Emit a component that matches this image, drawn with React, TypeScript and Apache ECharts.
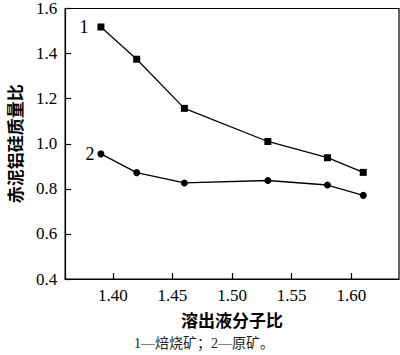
import React, { useEffect, useRef } from "react";
import * as echarts from "echarts";

const xValues = [1.39, 1.42, 1.46, 1.53, 1.58, 1.61];
const series1 = [1.518, 1.375, 1.157, 1.01, 0.938, 0.873];
const series2 = [0.955, 0.872, 0.826, 0.837, 0.817, 0.771];
const xTicks = [1.4, 1.45, 1.5, 1.55, 1.6];
const seriesNames = ["1", "2"];
const xTitle = "溶出液分子比";
const yTitle = "赤泥铝硅质量比";
const caption = "1—焙烧矿；2—原矿。";

const serif = "Liberation Serif";
const cjk = "Liberation Serif, Noto Sans CJK SC";

export default function App() {
  const ref = useRef<HTMLDivElement>(null);
  useEffect(() => {
    if (!ref.current) return;
    const chart = echarts.init(ref.current, null, { renderer: "svg" });
    const mk = (vals: number[], name: string, dist: number) =>
      vals.map((v, i) =>
        i === 0
          ? {
              value: [xValues[i], v],
              label: {
                show: true,
                position: "left",
                distance: dist,
                formatter: name,
                fontFamily: serif,
                fontSize: 18,
                color: "#000",
              },
            }
          : { value: [xValues[i], v] }
      );
    chart.setOption({
      animation: false,
      textStyle: { fontFamily: serif, fontSize: 17, color: "#000" },
      grid: {
        left: 53,
        right: 1,
        top: 7,
        bottom: 76,
        show: true,
        borderColor: "#000",
        borderWidth: 1.2,
      },
      xAxis: {
        type: "value",
        min: 1.36,
        max: 1.64,
        name: xTitle,
        nameLocation: "middle",
        nameGap: 34,
        nameTextStyle: { fontFamily: cjk, fontSize: 17, fontWeight: "bold", color: "#000" },
        axisLine: { show: true, lineStyle: { color: "#000", width: 1.2 } },
        axisTick: { show: true, inside: true, length: 6, customValues: xTicks, lineStyle: { color: "#000", width: 1.2 } },
        axisLabel: {
          customValues: xTicks,
          formatter: (v: number) => v.toFixed(2),
          fontFamily: serif,
          fontSize: 17,
          color: "#000",
          margin: 8,
        },
        splitLine: { show: false },
      },
      yAxis: {
        type: "value",
        min: 0.4,
        max: 1.6,
        interval: 0.2,
        name: yTitle,
        nameLocation: "middle",
        nameRotate: 90,
        nameGap: 30,
        nameTextStyle: { fontFamily: cjk, fontSize: 17, fontWeight: "bold", color: "#000" },
        axisLine: { show: true, lineStyle: { color: "#000", width: 1.2 } },
        axisTick: { show: true, inside: true, length: 6, lineStyle: { color: "#000", width: 1.2 } },
        axisLabel: {
          formatter: (v: number) => v.toFixed(1),
          fontFamily: serif,
          fontSize: 17,
          color: "#000",
          margin: 8,
        },
        splitLine: { show: false },
      },
      graphic: [
        {
          type: "text",
          x: 204,
          y: 343,
          style: {
            text: caption,
            fontFamily: cjk,
            fontSize: 14,
            fill: "#222",
            textAlign: "center",
            textVerticalAlign: "middle",
          },
        },
      ],
      series: [
        {
          type: "line",
          name: seriesNames[0],
          data: mk(series1, seriesNames[0], 9),
          symbol: "rect",
          symbolSize: 7,
          itemStyle: { color: "#000" },
          lineStyle: { color: "#000", width: 1.3 },
        },
        {
          type: "line",
          name: seriesNames[1],
          data: mk(series2, seriesNames[1], 3),
          symbol: "circle",
          symbolSize: 7,
          itemStyle: { color: "#000" },
          lineStyle: { color: "#000", width: 1.3 },
        },
      ],
    });
    return () => chart.dispose();
  }, []);
  return (
    <div
      ref={ref}
      style={{ position: "fixed", left: 0, top: 0, width: 400, height: 355, background: "#fff" }}
    />
  );
}
